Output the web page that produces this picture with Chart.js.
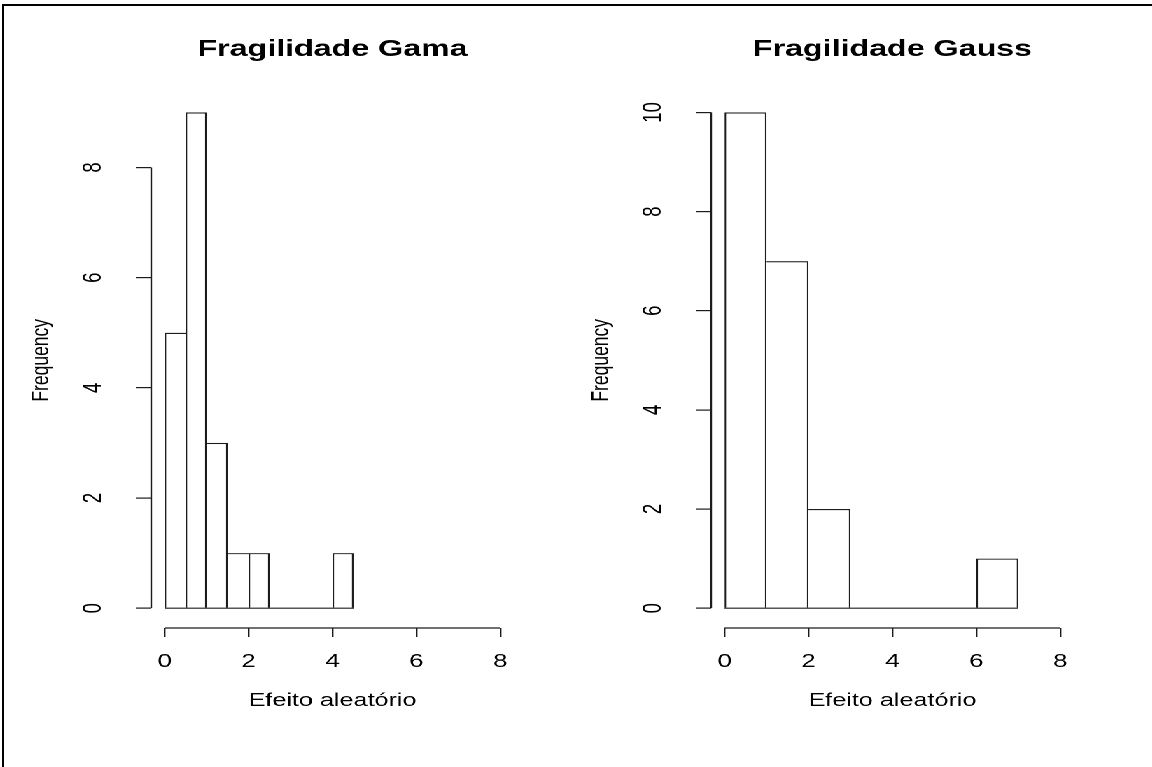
<!DOCTYPE html>
<html>
<head>
<meta charset="utf-8">
<script src="https://cdn.jsdelivr.net/npm/chart.js@4"></script>
<style>
  html, body { margin: 0; padding: 0; background: #fff; overflow: hidden; }
  body { width: 1152px; height: 767px; position: relative; }
  #frame { position: absolute; left: 2px; top: 4px; width: 1170px; height: 790px;
           border-top: 2px solid #000; border-left: 2px solid #000; }
  /* the original R plot is stretched sideways, so draw narrow and widen */
  #wrap { position: absolute; left: 0; top: 0; width: 823px; height: 767px;
          transform: scaleX(1.4); transform-origin: 0 0; }
  #wrap canvas { position: absolute; top: 0; }
  #gama { left: 0; }
  #gauss { left: 400px; }
</style>
</head>
<body>
<div id="frame"></div>
<div id="wrap">
  <canvas id="gama" width="412" height="767"></canvas>
  <canvas id="gauss" width="412" height="767"></canvas>
</div>
<script>
// histogram bins
const gamaBreaks = [0, 0.5, 1, 1.5, 2, 2.5, 3, 3.5, 4, 4.5];
const gamaCounts = [5, 9, 3, 1, 1, 0, 0, 0, 1];
const gaussBreaks = [0, 1, 2, 3, 4, 5, 6, 7];
const gaussCounts = [10, 7, 2, 0, 0, 0, 1];

const xTicks = [0, 2, 4, 6, 8];
const gamaYTicks = [0, 2, 4, 6, 8];
const gaussYTicks = [0, 2, 4, 6, 8, 10];

const gamaTitle = 'Fragilidade Gama';
const gaussTitle = 'Fragilidade Gauss';
const xLabel = 'Efeito aleatório';
const yLabel = 'Frequency';

const lineColor = '#1c1c1c';
const textColor = '#000';
const lw = 1.2;

Chart.defaults.font.family = '"Liberation Sans", Arial, Helvetica, sans-serif';
Chart.defaults.color = textColor;

// R style axes: the axis line only runs from the first tick to the last one
const rAxes = {
    id: 'rAxes',
    afterDraw(chart) {
        const { ctx, chartArea, scales: { x, y } } = chart;
        const xt = x.ticks, yt = y.ticks;
        ctx.save();
        ctx.strokeStyle = lineColor;
        ctx.lineWidth = lw;
        ctx.beginPath();
        ctx.moveTo(x.getPixelForValue(xt[0].value), chartArea.bottom);
        ctx.lineTo(x.getPixelForValue(xt[xt.length - 1].value), chartArea.bottom);
        ctx.moveTo(chartArea.left, y.getPixelForValue(yt[0].value));
        ctx.lineTo(chartArea.left, y.getPixelForValue(yt[yt.length - 1].value));
        ctx.stroke();
        ctx.restore();
    }
};

// only the taller bar draws a shared edge, so inner edges are not doubled
function edgeWidths(counts) {
    return function(c) {
        const i = c.dataIndex;
        return {
            top: lw,
            bottom: 0,
            left: (i === 0 || counts[i] >= counts[i - 1]) ? lw : 0,
            right: (i === counts.length - 1 || counts[i] > counts[i + 1]) ? lw : 0
        };
    };
}

function histogram(id, title, breaks, counts, yTicks, yLabelPad) {
    const mids = counts.map((c, i) => (breaks[i] + breaks[i + 1]) / 2);
    const xMax = xTicks[xTicks.length - 1];
    const yMax = Math.max(...counts);

    new Chart(document.getElementById(id), {
        type: 'bar',
        data: {
            datasets: [{
                type: 'line',
                data: [{ x: breaks[0], y: 0 }, { x: breaks[breaks.length - 1], y: 0 }],
                borderColor: lineColor,
                borderWidth: lw,
                pointRadius: 0,
                order: -1
            }, {
                data: mids.map((m, i) => ({ x: m, y: counts[i] })),
                backgroundColor: '#fff',
                borderColor: lineColor,
                borderWidth: edgeWidths(counts),
                borderSkipped: false,
                inflateAmount: 0,
                barPercentage: 1,
                categoryPercentage: 1
            }]
        },
        options: {
            responsive: false,
            devicePixelRatio: 2,
            animation: false,
            layout: { padding: { left: 0, right: 45, top: 0, bottom: 0 } },
            plugins: {
                legend: { display: false },
                tooltip: { enabled: false },
                title: {
                    display: true,
                    text: title,
                    fullSize: false,
                    color: textColor,
                    font: { size: 23, weight: 'bold' },
                    padding: { top: 36, bottom: 29 }
                }
            },
            scales: {
                x: {
                    type: 'linear',
                    offset: false,
                    bounds: 'data',
                    min: -0.04 * xMax,
                    max: 1.04 * xMax,
                    afterBuildTicks: s => { s.ticks = xTicks.map(v => ({ value: v })); },
                    afterFit: s => { s.height = 139; },
                    border: { display: false },
                    grid: { display: true, offset: false, drawOnChartArea: false, drawTicks: true,
                            tickLength: 9, color: lineColor, lineWidth: lw },
                    ticks: { font: { size: 18.5 }, color: textColor, padding: 14, maxRotation: 0 },
                    title: { display: true, text: xLabel, color: textColor, font: { size: 18 },
                             padding: { top: 0, bottom: 55 } }
                },
                y: {
                    type: 'linear',
                    bounds: 'data',
                    min: -0.04 * yMax,
                    max: 1.04 * yMax,
                    afterBuildTicks: s => { s.ticks = yTicks.map(v => ({ value: v })); },
                    afterFit: s => { s.width = 108; },
                    border: { display: false },
                    grid: { display: true, drawOnChartArea: false, drawTicks: true,
                            tickLength: 11, color: lineColor, lineWidth: lw },
                    ticks: { font: { size: 18.5 }, color: textColor, padding: yLabelPad,
                             minRotation: 90, maxRotation: 90, crossAlign: 'center' },
                    title: { display: true, text: yLabel, color: textColor, font: { size: 17.5 },
                             padding: { top: 19, bottom: 0 } }
                }
            }
        },
        plugins: [rAxes]
    });
}

histogram('gama', gamaTitle, gamaBreaks, gamaCounts, gamaYTicks, 25);
histogram('gauss', gaussTitle, gaussBreaks, gaussCounts, gaussYTicks, 19.7);
</script>
</body>
</html>
